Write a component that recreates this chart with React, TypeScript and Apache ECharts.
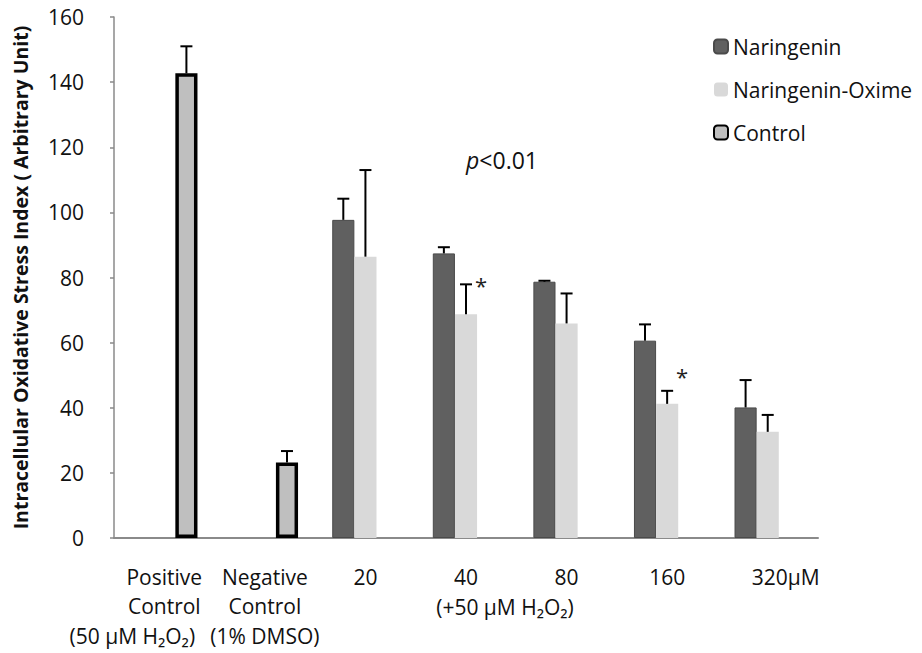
import React, { useEffect, useRef } from "react";
import * as echarts from "echarts";

const categories = ["Positive\nControl", "Negative\nControl\n(1% DMSO)", "20", "40", "80", "160", "320µM"];
const seriesNames = ["Naringenin", "Naringenin-Oxime", "Control"];
const naringenin = [null, null, 97.7, 87.4, 78.7, 60.6, 40.1];
const naringeninErr = [null, null, 6.5, 1.9, 0.3, 5.0, 8.4];
const oxime = [null, null, 86.4, 68.7, 65.9, 41.2, 32.6];
const oximeErr = [null, null, 26.6, 9.2, 9.2, 4.0, 5.2];
const control = [142.7, 23.2, null, null, null, null, null];
const controlErr = [8.3, 3.5, null, null, null, null, null];
const yMin = 0;
const yMax = 160;
const yInterval = 20;
const yAxisTitle = "Intracellular Oxidative Stress Index ( Arbitrary Unit)";
const positiveSubLabel = "(50 µM H₂O₂)";
const treatmentSubLabel = "(+50 µM H₂O₂)";
const pValueText = "<0.01";
// significance stars: category index and y value (data units) of the star
const starCats = [3, 5];
const starValues = [79, 51];

const FONT = "Open Sans";
const FS = 21;
const GAP = 0.34;

function errSeries(values: (number | null)[], errs: (number | null)[], pos: number) {
  const data: number[][] = [];
  values.forEach((v, i) => {
    if (v != null && errs[i] != null) data.push([i, v, errs[i] as number]);
  });
  return {
    type: "custom",
    z: 5,
    silent: true,
    data,
    renderItem: (params: any, api: any) => {
      const x = api.value(0);
      const v = api.value(1);
      const e = api.value(2);
      const base = api.coord([x, v]);
      const top = api.coord([x, v + e]);
      const band = api.size([1, 0])[0];
      const bw = (band * (1 - GAP)) / 3;
      const cx = base[0] + (pos - 1) * bw;
      const cap = 6;
      return {
        type: "group",
        children: [
          { type: "line", shape: { x1: cx, y1: base[1], x2: cx, y2: top[1] }, style: { stroke: "#000", lineWidth: 2 } },
          { type: "line", shape: { x1: cx - cap, y1: top[1], x2: cx + cap, y2: top[1] }, style: { stroke: "#000", lineWidth: 2 } },
        ],
      };
    },
  };
}

export default function App() {
  const ref = useRef<HTMLDivElement>(null);
  useEffect(() => {
    if (!ref.current) return;
    const chart = echarts.init(ref.current, undefined, { renderer: "svg" });
    const option: any = {
      animation: false,
      backgroundColor: "#fff",
      textStyle: { fontFamily: FONT },
      grid: { left: 114, right: 104, top: 17, bottom: 115, containLabel: false, outerBoundsMode: "none" },
      legend: {
        orient: "vertical",
        left: 708,
        top: 31,
        itemWidth: 14,
        itemHeight: 14,
        itemGap: 22,
        data: seriesNames,
        textStyle: { fontFamily: FONT, fontSize: FS, color: "#111", lineHeight: 21 },
      },
      xAxis: {
        type: "category",
        data: categories,
        axisLine: { lineStyle: { color: "#8a8a8a", width: 2 } },
        axisTick: { show: false },
        axisLabel: {
          interval: 0,
          margin: 24,
          fontFamily: FONT,
          fontSize: FS,
          color: "#111",
          lineHeight: 29.5,
          formatter: (val: string) => (val === "320µM" ? "{sp|}{t|" + val + "}" : val),
          rich: {
            sp: { width: 36 },
            t: { fontFamily: FONT, fontSize: FS, color: "#111", lineHeight: 29.5 },
          },
        },
      },
      yAxis: {
        type: "value",
        min: yMin,
        max: yMax,
        interval: yInterval,
        name: yAxisTitle,
        nameLocation: "middle",
        nameGap: 84,
        nameRotate: 90,
        nameTextStyle: { fontFamily: FONT, fontSize: 19.5, fontWeight: "bold", color: "#111" },
        splitLine: { show: false },
        axisLine: { show: true, lineStyle: { color: "#8a8a8a", width: 1.5 } },
        axisTick: { show: true, inside: false, length: 4, lineStyle: { color: "#8a8a8a", width: 1.5 } },
        axisLabel: { margin: 30, fontFamily: FONT, fontSize: FS, color: "#111" },
      },
      series: [
        {
          name: seriesNames[0],
          type: "bar",
          data: naringenin,
          barGap: "0%",
          barCategoryGap: "34%",
          itemStyle: { color: "#606060", borderColor: "#4a4a4a", borderWidth: 1 },
        },
        {
          name: seriesNames[1],
          type: "bar",
          data: oxime,
          barGap: "0%",
          barCategoryGap: "34%",
          itemStyle: { color: "#d9d9d9" },
        },
        {
          name: seriesNames[2],
          type: "bar",
          data: control,
          barGap: "0%",
          barCategoryGap: "34%",
          itemStyle: { color: "#bfbfbf", borderColor: "#000", borderWidth: 3.5 },
        },
        errSeries(naringenin, naringeninErr, 0),
        errSeries(oxime, oximeErr, 1),
        errSeries(control, controlErr, 2),
      ],
    };
    chart.setOption(option);

    const px = (cat: number, val: number) => chart.convertToPixel({ gridIndex: 0 } as any, [cat, val]) as number[];
    const base0 = px(0, 0);
    const base3 = px(3, 0);
    const pPos = px(3, 116);
    const graphics: any[] = [
      {
        type: "text",
        x: base0[0] - 32,
        y: base0[1] + 98,
        style: { text: positiveSubLabel, font: `${FS}px "${FONT}"`, fill: "#111", align: "center", verticalAlign: "middle" },
      },
      {
        type: "text",
        x: base3[0] + 39,
        y: base3[1] + 69,
        style: { text: treatmentSubLabel, font: `${FS}px "${FONT}"`, fill: "#111", align: "center", verticalAlign: "middle" },
      },
      {
        type: "text",
        x: pPos[0] + 36,
        y: pPos[1],
        style: {
          text: "{i|p}{n|" + pValueText + "}",
          align: "center",
          verticalAlign: "middle",
          rich: {
            i: { fontFamily: FONT, fontSize: 23, fontStyle: "italic", fill: "#111" },
            n: { fontFamily: FONT, fontSize: 23, fill: "#111" },
          },
        },
      },
    ];
    starCats.forEach((c, i) => {
      const p = px(c, starValues[i]);
      graphics.push({
        type: "text",
        x: p[0] + 15,
        y: p[1] + 4,
        style: { text: "*", font: `22px "${FONT}"`, fill: "#222", align: "center", verticalAlign: "middle" },
      });
    });
    chart.setOption({ graphic: graphics });

    return () => chart.dispose();
  }, []);
  return <div ref={ref} style={{ position: "absolute", left: 0, top: 0, width: 922, height: 653 }} />;
}
